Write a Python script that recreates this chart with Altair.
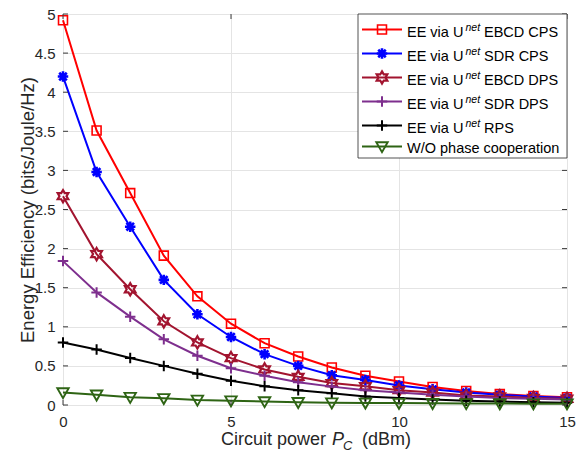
import altair as alt
import pandas as pd

# Circuit power sweep (dBm)
pc_dbm = list(range(16))

# Energy efficiency (bits/Joule/Hz) per scheme
ee_ebcd_cps = [4.92, 3.51, 2.71, 1.91, 1.39, 1.04, 0.79, 0.62, 0.48, 0.375, 0.30, 0.23, 0.18, 0.14, 0.115, 0.10]
ee_sdr_cps = [4.20, 2.98, 2.28, 1.60, 1.16, 0.87, 0.65, 0.50, 0.38, 0.32, 0.25, 0.20, 0.16, 0.13, 0.11, 0.09]
ee_ebcd_dps = [2.67, 1.93, 1.48, 1.07, 0.80, 0.60, 0.455, 0.36, 0.28, 0.24, 0.19, 0.16, 0.12, 0.11, 0.09, 0.08]
ee_sdr_dps = [1.84, 1.44, 1.13, 0.84, 0.63, 0.47, 0.375, 0.29, 0.235, 0.19, 0.16, 0.13, 0.11, 0.09, 0.08, 0.07]
ee_rps = [0.80, 0.71, 0.60, 0.50, 0.40, 0.31, 0.24, 0.19, 0.15, 0.11, 0.09, 0.07, 0.055, 0.045, 0.035, 0.03]
ee_no_coop = [0.16, 0.13, 0.10, 0.085, 0.065, 0.055, 0.045, 0.035, 0.03, 0.027, 0.024, 0.022, 0.02, 0.018, 0.017, 0.016]

series_values = [ee_ebcd_cps, ee_sdr_cps, ee_ebcd_dps, ee_sdr_dps, ee_rps, ee_no_coop]
series_ids = ["ebcd_cps", "sdr_cps", "ebcd_dps", "sdr_dps", "rps", "no_coop"]

# Legend text pieces
legend_prefix = "EE via U"
legend_sup = "net"
legend_suffix = ["EBCD CPS", "SDR CPS", "EBCD DPS", "SDR DPS", "RPS"]
legend_plain = "W/O phase cooperation"

# Tick positions
x_ticks = [0, 5, 10, 15]
y_ticks = [0, 0.5, 1, 1.5, 2, 2.5, 3, 3.5, 4, 4.5, 5]

FONT = "Liberation Sans"
TXT = "#262626"
W, H = 504, 391

# Marker symbols (unit box paths)
ASTERISK = "M-1,0L1,0M0,-1L0,1M-0.72,-0.72L0.72,0.72M-0.72,0.72L0.72,-0.72"
HEXAGRAM = ("M0,-1L0.2887,-0.5L0.866,-0.5L0.5774,0L0.866,0.5L0.2887,0.5L0,1"
            "L-0.2887,0.5L-0.866,0.5L-0.5774,0L-0.866,-0.5L-0.2887,-0.5Z")
PLUS = "M-1,0L1,0M0,-1L0,1"
TRI_DOWN = "M-1,-0.75L1,-0.75L0,1Z"

styles = [
    dict(color="#ff0000", shape="square", size=80, sw=1.6),
    dict(color="#0000ff", shape=ASTERISK, size=110, sw=2.6),
    dict(color="#a2142f", shape=HEXAGRAM, size=150, sw=2.2),
    dict(color="#7e2f8e", shape=PLUS, size=110, sw=2.0),
    dict(color="#000000", shape=PLUS, size=110, sw=2.0),
    dict(color="#2e6414", shape=TRI_DOWN, size=130, sw=1.9),
]

x_enc = alt.X(
    "pc:Q",
    scale=alt.Scale(domain=[0, 15], nice=False),
    axis=alt.Axis(
        values=x_ticks, grid=True, gridColor="#e4e4e4", gridWidth=1,
        ticks=False, domain=False, labelFont=FONT, labelFontSize=15,
        labelColor=TXT, labelPadding=9, labelFlush=False, title=None,
    ),
)
y_enc = alt.Y(
    "ee:Q",
    scale=alt.Scale(domain=[0, 5], nice=False),
    axis=alt.Axis(
        values=y_ticks, format="~g", grid=True, gridColor="#e4e4e4", gridWidth=1,
        ticks=False, domain=False, labelFont=FONT, labelFontSize=15,
        labelColor=TXT, labelPadding=8, labelFlush=False,
        title="Energy Efficiency (bits/Joule/Hz)", titleFont=FONT,
        titleFontSize=18.5, titleFontWeight="normal", titleColor=TXT,
        titleAngle=270, titleAlign="center", titleBaseline="alphabetic",
        titleX=-30, titleY=H / 2,
    ),
)

layers = []
for sid, vals, st in zip(series_ids, series_values, styles):
    d = pd.DataFrame({"pc": pc_dbm, "ee": vals, "series": sid})
    base = alt.Chart(d).encode(x=x_enc, y=y_enc)
    layers.append(base.mark_line(color=st["color"], strokeWidth=2))
    layers.append(
        base.mark_point(
            shape=st["shape"], filled=False, color=st["color"], size=st["size"],
            strokeWidth=st["sw"], opacity=1,
        )
    )

# Inward ticks on all four sides of the box
tick_color = "#3a3a3a"
xt = alt.Chart(pd.DataFrame({"pc": x_ticks}))
yt = alt.Chart(pd.DataFrame({"ee": y_ticks}))
layers += [
    xt.mark_rule(color=tick_color, strokeWidth=1).encode(x=x_enc, y=alt.value(H), y2=alt.value(H - 5)),
    xt.mark_rule(color=tick_color, strokeWidth=1).encode(x=x_enc, y=alt.value(0), y2=alt.value(5)),
    yt.mark_rule(color=tick_color, strokeWidth=1).encode(y=y_enc, x=alt.value(0), x2=alt.value(5)),
    yt.mark_rule(color=tick_color, strokeWidth=1).encode(y=y_enc, x=alt.value(W), x2=alt.value(W - 5)),
]

anchor = alt.Chart(pd.DataFrame({"k": [0]}))

# Legend box
lx0, lx1, ly0, ly1 = 295, 504, 0, 144
layers.append(
    anchor.mark_rect(fill="white", stroke="#262626", strokeWidth=0.8).encode(
        x=alt.value(lx0), x2=alt.value(lx1), y=alt.value(ly0), y2=alt.value(ly1)
    )
)

text_centers = [17.5, 41.5, 65.5, 89.5, 113.5, 133.5]
line_offsets = [-2, -2, -2, -2, -2, -1]
line_x0, line_x1, mark_x, text_x = 299, 339, 319, 344
for i, st in enumerate(styles):
    ly = text_centers[i] + line_offsets[i]
    base_y = text_centers[i] + 5.2
    layers.append(
        anchor.mark_rule(color=st["color"], strokeWidth=2).encode(
            x=alt.value(line_x0), x2=alt.value(line_x1), y=alt.value(ly)
        )
    )
    layers.append(
        anchor.mark_point(
            shape=st["shape"], filled=False, color=st["color"], size=st["size"],
            strokeWidth=st["sw"], opacity=1,
        ).encode(x=alt.value(mark_x), y=alt.value(ly))
    )
    if i < len(legend_suffix):
        layers.append(
            anchor.mark_text(
                text=legend_prefix, font=FONT, fontSize=14.5, color="black",
                align="left", baseline="alphabetic",
            ).encode(x=alt.value(text_x), y=alt.value(base_y))
        )
        layers.append(
            anchor.mark_text(
                text=legend_sup, font=FONT, fontSize=10.5, fontStyle="italic",
                color="black", align="left", baseline="alphabetic",
            ).encode(x=alt.value(text_x + 58.5), y=alt.value(base_y - 5.5))
        )
        layers.append(
            anchor.mark_text(
                text=legend_suffix[i], font=FONT, fontSize=14.5, color="black",
                align="left", baseline="alphabetic",
            ).encode(x=alt.value(text_x + 77), y=alt.value(base_y))
        )
    else:
        layers.append(
            anchor.mark_text(
                text=legend_plain, font=FONT, fontSize=14.5, color="black",
                align="left", baseline="alphabetic",
            ).encode(x=alt.value(text_x), y=alt.value(base_y))
        )

# X-axis title with italic P and subscript C
tb = 431
layers += [
    anchor.mark_text(text="Circuit power", font=FONT, fontSize=18, color=TXT,
                     align="left", baseline="alphabetic").encode(x=alt.value(158), y=alt.value(tb)),
    anchor.mark_text(text="P", font=FONT, fontSize=18, fontStyle="italic", color=TXT,
                     align="left", baseline="alphabetic").encode(x=alt.value(269), y=alt.value(tb)),
    anchor.mark_text(text="C", font=FONT, fontSize=13, fontStyle="italic", color=TXT,
                     align="left", baseline="alphabetic").encode(x=alt.value(280), y=alt.value(tb + 5)),
    anchor.mark_text(text="(dBm)", font=FONT, fontSize=18, color=TXT,
                     align="left", baseline="alphabetic").encode(x=alt.value(299), y=alt.value(tb)),
]

chart = (
    alt.layer(*layers)
    .properties(
        width=W, height=H,
        padding={"left": 63, "top": 14, "right": 12, "bottom": 49},
        autosize=alt.AutoSizeParams(type="none"),
        background="white",
    )
    .configure_view(stroke="#3a3a3a", strokeWidth=1)
)

chart.save("out.html", embed_options={"renderer": "svg", "actions": False})
